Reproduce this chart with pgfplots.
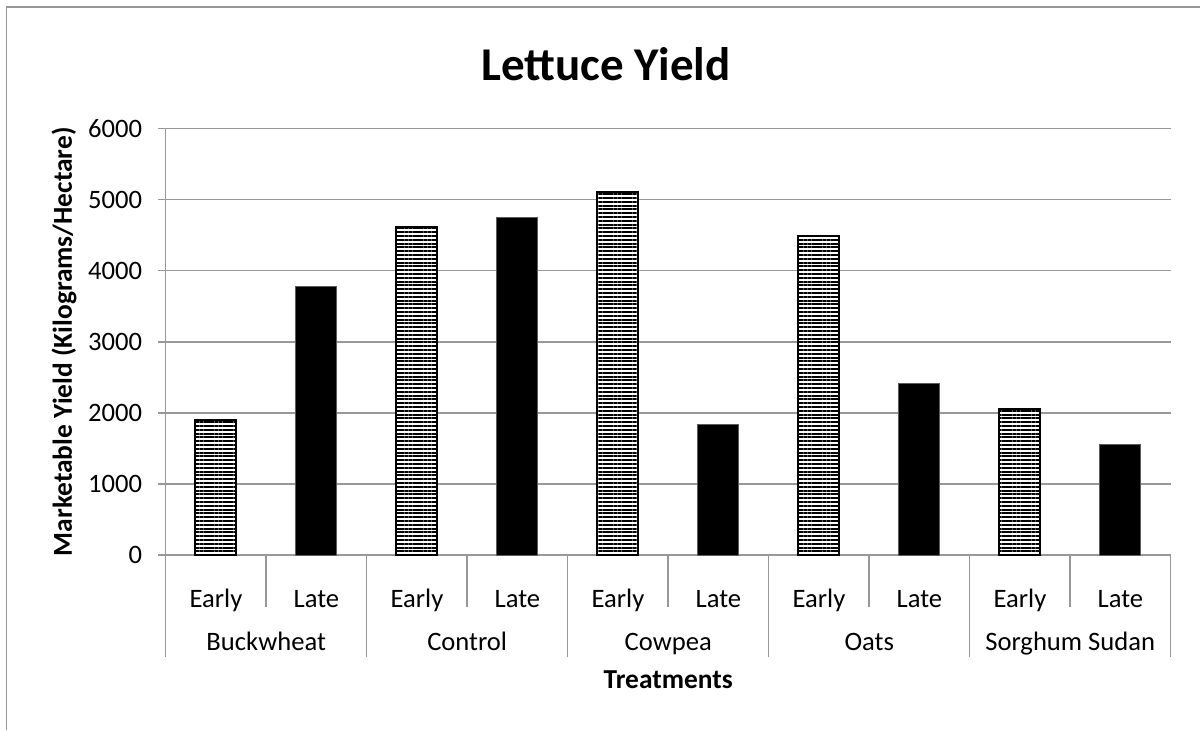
\documentclass[border=0pt]{standalone}
\usepackage{pgfplots}
\pgfplotsset{compat=1.18}
\usetikzlibrary{patterns.meta}
\usepackage{fontspec}
\setmainfont{Carlito}
\definecolor{axgray}{RGB}{152,152,152}
\begin{document}
\begin{tikzpicture}[x=1pt,y=1pt]
\path[use as bounding box] (0,0) rectangle (600,365);
\fill[white] (0,0) rectangle (600,365);
\draw[axgray,line width=0.8pt] (3.25,0) -- (3.25,361.5) -- (600,361.5);
\node[font=\fontsize{23.5}{27}\selectfont\bfseries] at (303,333) {Lettuce Yield};
\begin{axis}[
  at={(82.85pt,87.5pt)}, anchor=south west,
  width=502.5pt, height=213.25pt, scale only axis,
  clip=false,
  xmin=-0.5, xmax=9.5, ymin=0, ymax=6000,
  ytick={0,1000,2000,3000,4000,5000,6000},
  xtick={0,1,2,3,4,5,6,7,8,9},
  xticklabels={Early,Late,Early,Late,Early,Late,Early,Late,Early,Late},
  axis x line*=bottom, axis y line*=left,
  axis line style={axgray,line width=0.75pt,-},
  ymajorgrids, grid style={axgray,line width=0.75pt},
  tick align=outside,
  ytick style={axgray,line width=0.75pt},
  major tick length=4pt,
  xtick style={draw=none},
  /pgf/number format/assume math mode=true,
  scaled y ticks=false,
  /pgf/number format/1000 sep={},
  yticklabel style={font=\fontsize{13.3}{16}\selectfont, anchor=east, inner sep=0pt, xshift=-7.6pt},
  xticklabel style={font=\fontsize{13.3}{16}\selectfont, anchor=base, inner sep=0pt, yshift=-22.15pt},
  xlabel={Treatments},
  xlabel style={font=\fontsize{13.7}{16}\selectfont\bfseries, at={(axis description cs:0.5,0)}, anchor=base, inner sep=0pt, yshift=-66.6pt},
  ylabel={Marketable Yield (Kilograms/Hectare)},
  ylabel style={font=\fontsize{13.7}{16}\selectfont\bfseries, at={(axis description cs:0,0.5)}, anchor=center, yshift=50.85pt},
  ybar, bar width=20.5pt,
]
\addplot[bar shift=0pt, draw=black, line width=1pt, fill=white,
  postaction={pattern={Lines[angle=0,distance=1.9pt,line width=1pt]}}]
  coordinates {(0,1900) (2,4610) (4,5100) (6,4490) (8,2055)};
\addplot[bar shift=0pt, draw=axgray!60!black, line width=0.5pt, fill=black]
  coordinates {(1,3780) (3,4750) (5,1840) (7,2410) (9,1555)};
\pgfplotsinvokeforeach{0.5,2.5,4.5,6.5,8.5}{
  \draw[axgray,line width=0.75pt] (axis cs:#1,0) -- ++(0pt,-25.8pt);
}
\pgfplotsinvokeforeach{-0.5,1.5,3.5,5.5,7.5,9.5}{
  \draw[axgray,line width=0.75pt] (axis cs:#1,0) -- ++(0pt,-50.9pt);
}
\node[font=\fontsize{13.3}{16}\selectfont, anchor=base, inner sep=0pt] at ([yshift=-47.5pt]axis cs:0.5,0) {Buckwheat};
\node[font=\fontsize{13.3}{16}\selectfont, anchor=base, inner sep=0pt] at ([yshift=-47.5pt]axis cs:2.5,0) {Control};
\node[font=\fontsize{13.3}{16}\selectfont, anchor=base, inner sep=0pt] at ([yshift=-47.5pt]axis cs:4.5,0) {Cowpea};
\node[font=\fontsize{13.3}{16}\selectfont, anchor=base, inner sep=0pt] at ([yshift=-47.5pt]axis cs:6.5,0) {Oats};
\node[font=\fontsize{13.3}{16}\selectfont, anchor=base, inner sep=0pt] at ([yshift=-47.5pt]axis cs:8.5,0) {Sorghum Sudan};
\end{axis}
\end{tikzpicture}
\end{document}
